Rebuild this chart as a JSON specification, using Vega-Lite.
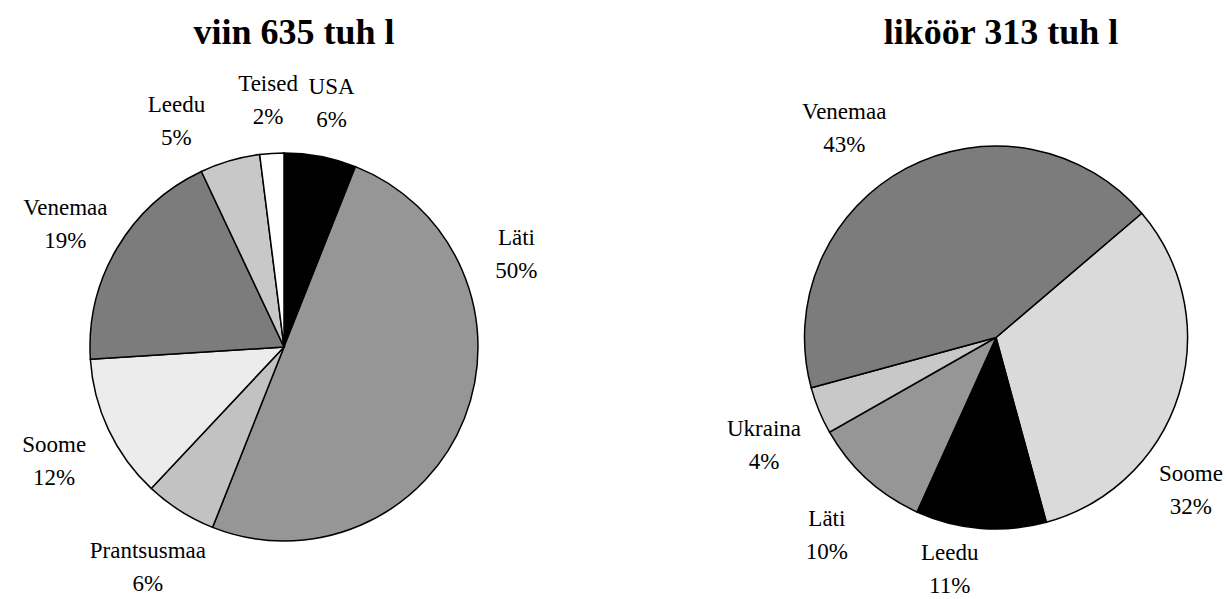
{
  "$schema": "https://vega.github.io/schema/vega-lite/v6.json",
  "padding": {"top": 15, "left": 0, "right": 0, "bottom": 0},
  "background": "white",
  "spacing": 158,
  "config": {
    "view": {"stroke": null},
    "font": "Liberation Serif",
    "title": {"fontSize": 36, "fontWeight": "bold", "color": "black", "font": "Liberation Serif", "offset": 8},
    "text": {"fontSize": 23, "lineHeight": 33, "color": "black", "lineBreak": "\n"}
  },
  "datasets": {
    "viin": [
      {"i": 1, "country": "USA", "share": 6},
      {"i": 2, "country": "Läti", "share": 50},
      {"i": 3, "country": "Prantsusmaa", "share": 6},
      {"i": 4, "country": "Soome", "share": 12},
      {"i": 5, "country": "Venemaa", "share": 19},
      {"i": 6, "country": "Leedu", "share": 5},
      {"i": 7, "country": "Teised", "share": 2}
    ],
    "likoor": [
      {"i": 1, "country": "Soome", "share": 32},
      {"i": 2, "country": "Leedu", "share": 11},
      {"i": 3, "country": "Läti", "share": 10},
      {"i": 4, "country": "Ukraina", "share": 4},
      {"i": 5, "country": "Venemaa", "share": 43}
    ]
  },
  "resolve": {"scale": {"color": "independent", "theta": "independent"}},
  "hconcat": [
    {
      "width": 568,
      "height": 574,
      "title": {"text": "viin 635 tuh l", "dx": 10},
      "data": {"name": "viin"},
      "transform": [
        {"stack": "share", "groupby": [], "sort": [{"field": "i", "order": "ascending"}], "as": ["s0", "s1"]},
        {"calculate": "(datum.s0 + datum.s1) / 2", "as": "mid"},
        {"calculate": "datum.country + '\\n' + datum.share + '%'", "as": "label"}
      ],
      "layer": [
        {
          "mark": {"type": "arc", "outerRadius": 194, "stroke": "black", "strokeWidth": 1.5},
          "encoding": {
            "theta": {"field": "s0", "type": "quantitative", "scale": {"domain": [0, 100], "range": [0, 6.283185]}},
            "theta2": {"field": "s1"},
            "color": {
              "field": "country", "type": "nominal", "legend": null,
              "scale": {
                "domain": ["USA", "Läti", "Prantsusmaa", "Soome", "Venemaa", "Leedu", "Teised"],
                "range": ["#000000", "#969696", "#c2c2c2", "#ececec", "#7c7c7c", "#c8c8c8", "#ffffff"]
              }
            }
          }
        },
        {
          "transform": [{"filter": "datum.country != 'Läti' && datum.country != 'Leedu'"}],
          "mark": {"type": "text", "radius": 254, "dy": -10},
          "encoding": {
            "theta": {"field": "mid", "type": "quantitative", "stack": null},
            "text": {"field": "label"}
          }
        },
        {
          "transform": [{"filter": "datum.country == 'Läti'"}],
          "mark": {"type": "text", "radius": 250, "thetaOffset": -0.754, "dy": -16.5},
          "encoding": {
            "theta": {"field": "mid", "type": "quantitative", "stack": null},
            "text": {"field": "label"}
          }
        },
        {
          "transform": [{"filter": "datum.country == 'Leedu'"}],
          "mark": {"type": "text", "radius": 250, "thetaOffset": -0.162, "dy": -16.5},
          "encoding": {
            "theta": {"field": "mid", "type": "quantitative", "stack": null},
            "text": {"field": "label"}
          }
        }
      ]
    },
    {
      "width": 464,
      "height": 555,
      "title": {"text": "liköör 313 tuh l", "dx": 5},
      "data": {"name": "likoor"},
      "transform": [
        {"stack": "share", "groupby": [], "sort": [{"field": "i", "order": "ascending"}], "as": ["s0", "s1"]},
        {"calculate": "(datum.s0 + datum.s1) / 2", "as": "mid"},
        {"calculate": "datum.country + '\\n' + datum.share + '%'", "as": "label"}
      ],
      "layer": [
        {
          "mark": {"type": "arc", "outerRadius": 191.5, "stroke": "black", "strokeWidth": 1.5},
          "encoding": {
            "theta": {"field": "s0", "type": "quantitative", "scale": {"domain": [0, 100], "range": [0.865, 7.148185]}},
            "theta2": {"field": "s1"},
            "color": {
              "field": "country", "type": "nominal", "legend": null,
              "scale": {
                "domain": ["Soome", "Leedu", "Läti", "Ukraina", "Venemaa"],
                "range": ["#dadada", "#000000", "#969696", "#c8c8c8", "#7c7c7c"]
              }
            }
          }
        },
        {
          "transform": [{"filter": "datum.country == 'Ukraina' || datum.country == 'Läti'"}],
          "mark": {"type": "text", "radius": 251, "dy": -4},
          "encoding": {
            "theta": {"field": "mid", "type": "quantitative", "stack": null},
            "text": {"field": "label"}
          }
        },
        {
          "transform": [{"filter": "datum.country == 'Soome'"}],
          "mark": {"type": "text", "radius": 248, "thetaOffset": 0.367, "dy": -16.5},
          "encoding": {
            "theta": {"field": "mid", "type": "quantitative", "stack": null},
            "text": {"field": "label"}
          }
        },
        {
          "transform": [{"filter": "datum.country == 'Leedu'"}],
          "mark": {"type": "text", "radius": 237, "thetaOffset": 0.117, "dy": -16.5},
          "encoding": {
            "theta": {"field": "mid", "type": "quantitative", "stack": null},
            "text": {"field": "label"}
          }
        },
        {
          "transform": [{"filter": "datum.country == 'Venemaa'"}],
          "mark": {"type": "text", "radius": 258, "thetaOffset": -0.143, "dy": -16.5},
          "encoding": {
            "theta": {"field": "mid", "type": "quantitative", "stack": null},
            "text": {"field": "label"}
          }
        }
      ]
    }
  ]
}
